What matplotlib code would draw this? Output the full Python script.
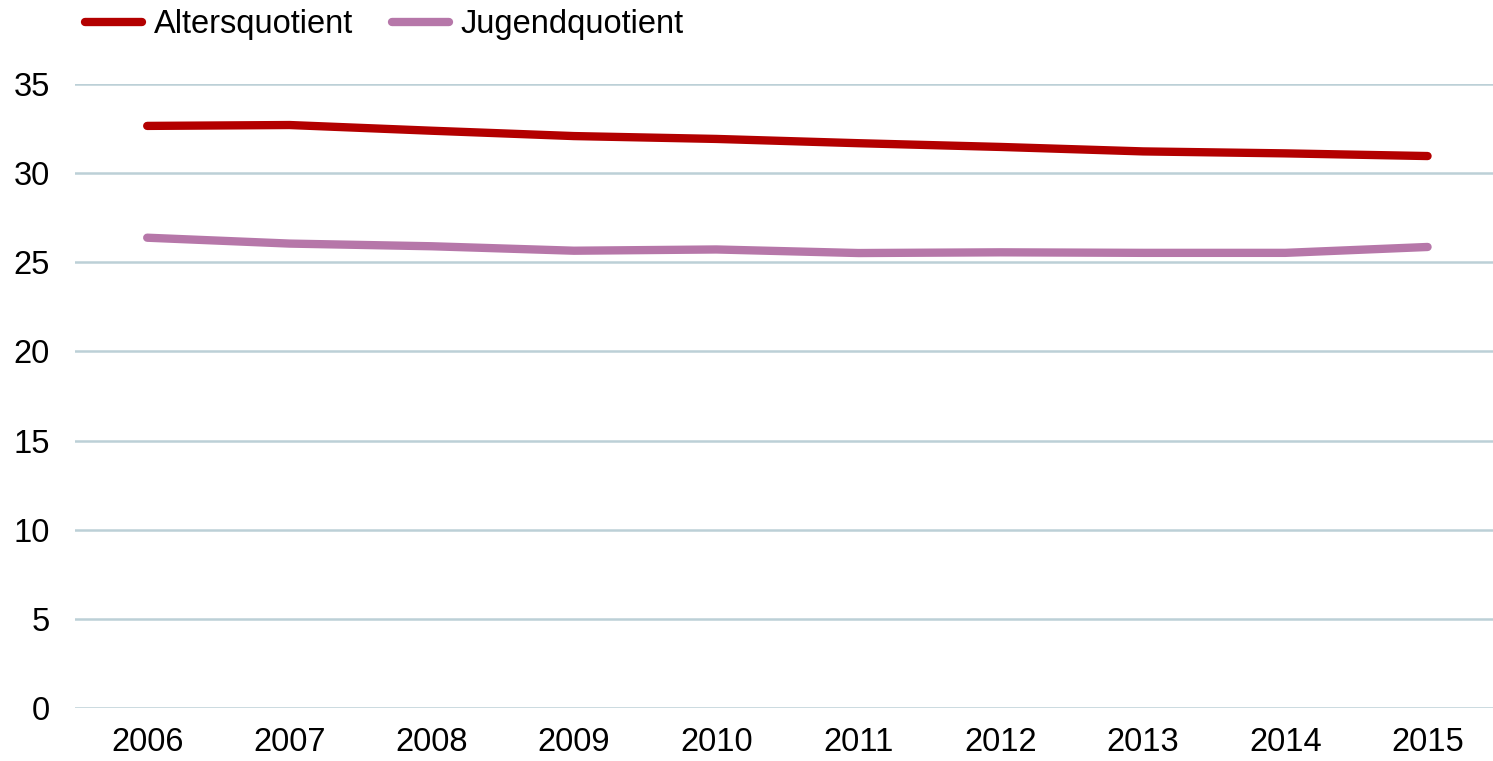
import matplotlib.pyplot as plt
import numpy as np

plt.rcParams['font.family'] = ['Liberation Sans', 'DejaVu Sans']

years = ["2006", "2007", "2008", "2009", "2010", "2011", "2012", "2013", "2014", "2015"]
alters = [32.65, 32.70, 32.38, 32.08, 31.92, 31.68, 31.47, 31.22, 31.11, 30.96]
jugend = [26.38, 26.05, 25.90, 25.65, 25.72, 25.52, 25.56, 25.53, 25.53, 25.86]

RED = "#b30000"
PURPLE = "#b677a9"
GRID = "#bcd0d7"

fig = plt.figure(figsize=(14.93, 7.61), dpi=100)
ax = fig.add_axes([0.050, 0.0696, 0.950, 0.82])

x = np.arange(len(years))
ax.plot(x, alters, color=RED, lw=6, solid_capstyle="round", label="Altersquotient", zorder=3)
ax.plot(x, jugend, color=PURPLE, lw=6, solid_capstyle="round", label="Jugendquotient", zorder=3)

ax.set_xlim(-0.51, 9.46)
ax.set_ylim(0, 35)
ax.set_yticks(range(0, 36, 5))
ax.set_xticks(x)
ax.set_xticklabels(years)
ax.grid(axis="y", color=GRID, lw=1.8)
ax.set_axisbelow(True)
for s in ax.spines.values():
    s.set_visible(False)
ax.tick_params(axis="both", length=0, labelsize=23.5)
ax.tick_params(axis="y", pad=18)
ax.tick_params(axis="x", pad=14)

fig.legend(loc="upper left", bbox_to_anchor=(0.057, 0.988), ncol=2, frameon=False,
           fontsize=23.5, handlelength=1.75, handletextpad=0.35, columnspacing=1.2,
           borderpad=0, borderaxespad=0)

fig.savefig("out.png", dpi=100)
